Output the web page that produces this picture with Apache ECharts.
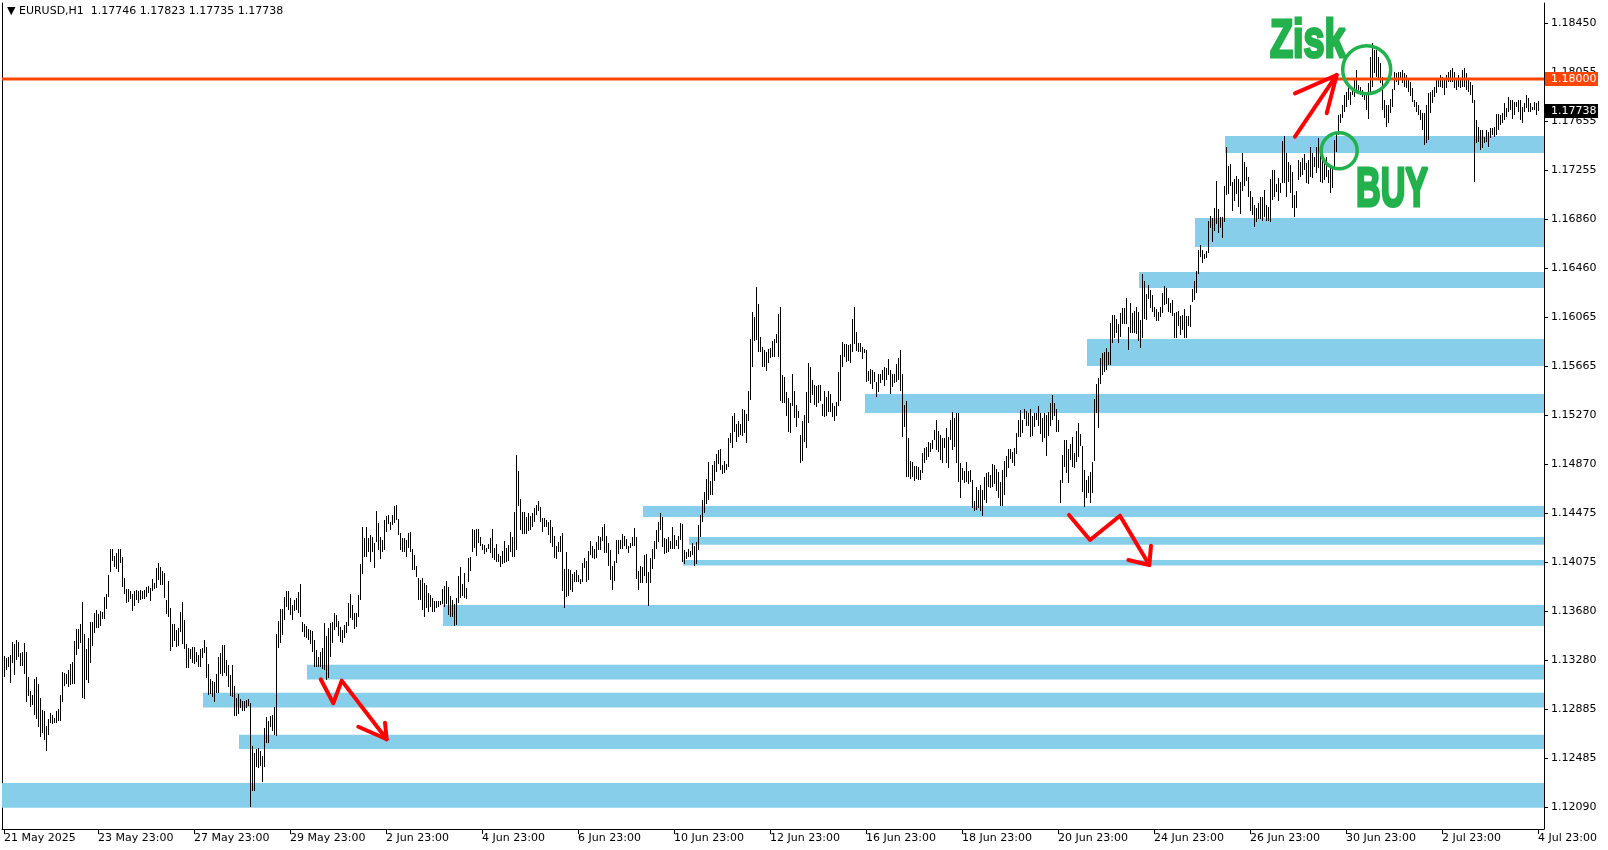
<!DOCTYPE html>
<html><head><meta charset="utf-8">
<script src="https://cdn.jsdelivr.net/npm/echarts@6.0.0/dist/echarts.min.js"></script>
<style>html,body{margin:0;padding:0;background:#fff;}#c{width:1608px;height:850px;}</style>
</head><body><div id="c"></div>
<script>
const chartTitle = '\u25BC EURUSD,H1  1.17746 1.17823 1.17735 1.17738';
const xTickIdx = [0,47,95,143,191,239,287,335,383,431,479,527,575,623,671,719,767];
const xTickLabels = ['21 May 2025','23 May 23:00','27 May 23:00','29 May 23:00','2 Jun 23:00','4 Jun 23:00','6 Jun 23:00','10 Jun 23:00','12 Jun 23:00','16 Jun 23:00','18 Jun 23:00','20 Jun 23:00','24 Jun 23:00','26 Jun 23:00','30 Jun 23:00','2 Jul 23:00','4 Jul 23:00'];
const yTicks = [1.12090,1.12485,1.12885,1.13280,1.13680,1.14075,1.14475,1.14870,1.15270,1.15665,1.16065,1.16460,1.16860,1.17255,1.17655,1.18055,1.18450];

// hourly bar highs (one row = one trading day, 24 bars)
const highs = [
1.13317,1.13298,1.13306,1.13325,1.13430,1.13411,1.13447,1.13433,1.13344,1.13349,1.13422,1.13349,1.13149,1.13033,1.12998,1.13130,1.13149,1.13087,1.12973,1.12879,1.12873,1.12752,1.12806,1.12857,
1.12835,1.12816,1.12873,1.12887,1.13000,1.13187,1.13182,1.13171,1.13200,1.13252,1.13265,1.13441,1.13536,1.13539,1.13576,1.13755,1.13495,1.13376,1.13463,1.13595,1.13595,1.13663,1.13690,1.13660,
1.13682,1.13674,1.13798,1.13820,1.13974,1.14182,1.14182,1.14131,1.14155,1.14182,1.14182,1.14120,1.13947,1.13858,1.13860,1.13847,1.13822,1.13841,1.13852,1.13841,1.13849,1.13841,1.13855,1.13876,
1.13882,1.13868,1.13939,1.13912,1.14031,1.14071,1.14039,1.14009,1.13987,1.13771,1.13925,1.13706,1.13579,1.13574,1.13525,1.13544,1.13676,1.13758,1.13612,1.13414,1.13379,1.13371,1.13390,1.13392,
1.13346,1.13328,1.13374,1.13382,1.13447,1.13392,1.13252,1.13130,1.13111,1.13103,1.13173,1.13311,1.13344,1.13403,1.13403,1.13284,1.13244,1.13163,1.13241,1.13076,1.12979,1.13008,1.12971,1.12954,
1.12952,1.12960,1.12968,1.12935,1.12589,1.12527,1.12562,1.12570,1.12546,1.12503,1.12730,1.12819,1.12787,1.12833,1.12841,1.12900,1.13495,1.13601,1.13701,1.13701,1.13798,1.13844,1.13844,1.13785,
1.13734,1.13771,1.13790,1.13839,1.13901,1.13596,1.13574,1.13563,1.13536,1.13528,1.13520,1.13447,1.13366,1.13312,1.13350,1.13379,1.13582,1.13482,1.13547,1.13582,1.13596,1.13663,1.13647,1.13601,
1.13555,1.13528,1.13569,1.13596,1.13750,1.13820,1.13734,1.13669,1.13663,1.13809,1.14061,1.14366,1.14272,1.14366,1.14272,1.14299,1.14285,1.14231,1.14493,1.14393,1.14285,1.14258,1.14420,1.14456,
1.14461,1.14407,1.14461,1.14537,1.14542,1.14429,1.14312,1.14272,1.14272,1.14258,1.14312,1.14320,1.14182,1.14136,1.14047,1.13947,1.13934,1.13947,1.13907,1.13893,1.13831,1.13812,1.13790,1.13763,
1.13763,1.13763,1.13763,1.13861,1.13885,1.13926,1.13874,1.13804,1.13771,1.13736,1.13785,1.13966,1.14036,1.13899,1.13988,1.13871,1.14109,1.14118,1.14347,1.14339,1.14345,1.14345,1.14285,1.14226,
1.14218,1.14191,1.14226,1.14272,1.14347,1.14190,1.14225,1.14144,1.14128,1.14171,1.14249,1.14195,1.14217,1.14323,1.14282,1.14485,1.14947,1.14817,1.14590,1.14482,1.14487,1.14441,1.14477,1.14452,
1.14477,1.14515,1.14542,1.14574,1.14525,1.14439,1.14439,1.14420,1.14404,1.14423,1.14363,1.14290,1.14209,1.14241,1.14290,1.14314,1.14022,1.14160,1.14022,1.14014,1.13982,1.14001,1.14014,1.13974,
1.13939,1.14074,1.14109,1.14087,1.14171,1.14249,1.14209,1.14185,1.14241,1.14290,1.14282,1.14366,1.14387,1.14290,1.14233,1.14176,1.14047,1.14090,1.14258,1.14258,1.14258,1.14306,1.14290,1.14266,
1.14209,1.14233,1.14282,1.14355,1.14282,1.14006,1.14047,1.14041,1.14136,1.14144,1.13998,1.14112,1.14185,1.14249,1.14339,1.14404,1.14477,1.14444,1.14274,1.14266,1.14282,1.14249,1.14363,1.14298,
1.14258,1.14290,1.14395,1.14387,1.14176,1.14160,1.14185,1.14170,1.14233,1.14210,1.14245,1.14379,1.14460,1.14580,1.14650,1.14750,1.14893,1.14739,1.14866,1.14899,1.14955,1.14988,1.14996,1.14866,
1.14899,1.14874,1.15088,1.15128,1.15264,1.15285,1.15196,1.15223,1.15199,1.15320,1.15312,1.15280,1.15466,1.15888,1.16107,1.16067,1.16313,1.16172,1.15904,1.15826,1.15799,1.15785,1.15807,1.15812,
1.15875,1.15888,1.15929,1.16091,1.16145,1.15596,1.15583,1.15458,1.15407,1.15366,1.15602,1.15466,1.15353,1.15307,1.15109,1.15223,1.15272,1.15458,1.15694,1.15661,1.15556,1.15515,1.15507,1.15515,
1.15515,1.15361,1.15466,1.15420,1.15466,1.15442,1.15366,1.15345,1.15374,1.15623,1.15758,1.15864,1.15848,1.15850,1.15840,1.15848,1.16050,1.16145,1.15945,1.15858,1.15853,1.15821,1.15807,1.15799,
1.15629,1.15645,1.15637,1.15618,1.15542,1.15602,1.15604,1.15637,1.15664,1.15656,1.15726,1.15637,1.15604,1.15604,1.15683,1.15731,1.15799,1.15602,1.15353,1.15385,1.15085,1.14899,1.14888,1.14858,
1.14861,1.14847,1.14826,1.14961,1.15007,1.15015,1.15055,1.15042,1.15069,1.15150,1.15231,1.15142,1.15110,1.15088,1.15083,1.15169,1.15096,1.15231,1.15299,1.15245,1.15285,1.15285,1.14880,1.14839,
1.14818,1.14888,1.14818,1.14826,1.14744,1.14577,1.14690,1.14660,1.14705,1.14663,1.14772,1.14799,1.14810,1.14785,1.14874,1.14866,1.14834,1.14807,1.14731,1.14826,1.14899,1.14942,1.14996,1.14996,
1.14969,1.15001,1.15123,1.15231,1.15312,1.15231,1.15320,1.15304,1.15285,1.15320,1.15266,1.15285,1.15291,1.15345,1.15285,1.15250,1.15285,1.15272,1.15293,1.15372,1.15434,1.15366,1.15320,1.15231,
1.14744,1.14947,1.15069,1.15069,1.14996,1.15034,1.15096,1.14966,1.15142,1.15204,1.15115,1.15023,1.14826,1.14744,1.14780,1.14807,1.14893,1.15402,1.15523,1.15569,1.15732,1.15778,1.15786,1.15813,
1.15780,1.16021,1.16083,1.16083,1.16051,1.16010,1.16102,1.16143,1.16143,1.16224,1.15988,1.16183,1.16097,1.16118,1.16151,1.16110,1.16043,1.16416,1.16359,1.16251,1.16326,1.16286,1.16245,1.16151,
1.16129,1.16110,1.16145,1.16264,1.16321,1.16299,1.16218,1.16183,1.16205,1.16097,1.16110,1.16116,1.16078,1.16083,1.16132,1.16075,1.16078,1.16164,1.16291,1.16359,1.16440,1.16610,1.16651,1.16610,
1.16575,1.16602,1.16848,1.16886,1.16867,1.16948,1.17170,1.16940,1.16875,1.16881,1.17129,1.17443,1.17295,1.17308,1.17160,1.17186,1.17211,1.17186,1.17160,1.17400,1.17322,1.17281,1.17200,1.17092,
1.17038,1.16975,1.16950,1.16990,1.17038,1.17043,1.17097,1.16975,1.16957,1.17184,1.17259,1.17259,1.17143,1.17197,1.17151,1.17495,1.17535,1.17395,1.17322,1.17300,1.17246,1.17057,1.17092,1.17340,
1.17322,1.17361,1.17389,1.17313,1.17340,1.17449,1.17395,1.17368,1.17449,1.17517,1.17395,1.17341,1.17314,1.17368,1.17260,1.17287,1.17274,1.17504,1.17571,1.17706,1.17712,1.17787,1.17869,1.17896,
1.17936,1.17896,1.17923,1.17990,1.18071,1.17950,1.17936,1.17909,1.17896,1.17882,1.17963,1.18180,1.18293,1.18234,1.18234,1.18180,1.18126,1.18017,1.17828,1.17787,1.17787,1.17833,1.17915,1.18058,
1.18044,1.18058,1.18058,1.18071,1.18044,1.18031,1.18004,1.17977,1.17923,1.17828,1.17814,1.17787,1.17747,1.17720,1.17720,1.17787,1.17882,1.17896,1.17909,1.17936,1.18004,1.17990,1.18031,1.18017,
1.18004,1.18031,1.18058,1.18071,1.18090,1.18058,1.17990,1.18031,1.18004,1.18071,1.18085,1.18044,1.17990,1.17977,1.17950,1.17828,1.17666,1.17612,1.17585,1.17585,1.17531,1.17585,1.17571,1.17598,
1.17598,1.17612,1.17712,1.17712,1.17706,1.17720,1.17801,1.17760,1.17849,1.17828,1.17828,1.17814,1.17814,1.17828,1.17828,1.17774,1.17801,1.17869,1.17842,1.17801,1.17774,1.17814,1.17801,1.17823
];
// hourly bar lows
const lows = [
1.13149,1.13203,1.13230,1.13100,1.13257,1.13163,1.13284,1.13306,1.13238,1.13238,1.13168,1.12946,1.12992,1.12906,1.12919,1.12838,1.12806,1.12744,1.12657,1.12689,1.12635,1.12549,1.12673,1.12776,
1.12768,1.12776,1.12776,1.12789,1.12787,1.12944,1.13076,1.13087,1.13068,1.13079,1.13087,1.13087,1.13322,1.13376,1.13420,1.12976,1.12971,1.13122,1.13100,1.13257,1.13398,1.13506,1.13547,1.13547,
1.13560,1.13620,1.13620,1.13698,1.13798,1.13998,1.14090,1.14036,1.14020,1.14001,1.14068,1.13879,1.13820,1.13749,1.13752,1.13779,1.13684,1.13725,1.13771,1.13749,1.13771,1.13779,1.13776,1.13798,
1.13825,1.13766,1.13841,1.13863,1.13868,1.13933,1.13893,1.13893,1.13785,1.13655,1.13630,1.13360,1.13387,1.13441,1.13392,1.13401,1.13509,1.13414,1.13376,1.13222,1.13222,1.13292,1.13260,1.13249,
1.13265,1.13228,1.13230,1.13303,1.13338,1.13136,1.13000,1.13006,1.12987,1.12946,1.13019,1.13019,1.13171,1.13155,1.13176,1.13155,1.13068,1.12992,1.12987,1.12830,1.12830,1.12844,1.12892,1.12871,
1.12873,1.12892,1.12914,1.12095,1.12222,1.12222,1.12414,1.12411,1.12427,1.12297,1.12419,1.12614,1.12614,1.12744,1.12708,1.12673,1.12668,1.13385,1.13425,1.13485,1.13609,1.13717,1.13690,1.13652,
1.13609,1.13682,1.13690,1.13663,1.13636,1.13515,1.13474,1.13461,1.13447,1.13412,1.13352,1.13231,1.13231,1.13231,1.13225,1.13212,1.13204,1.13122,1.13136,1.13312,1.13420,1.13528,1.13555,1.13482,
1.13433,1.13420,1.13461,1.13501,1.13563,1.13623,1.13609,1.13539,1.13555,1.13636,1.13771,1.13985,1.14123,1.14118,1.14163,1.14082,1.14158,1.14034,1.14239,1.14177,1.14104,1.14158,1.14177,1.14320,
1.14385,1.14339,1.14380,1.14393,1.14420,1.14299,1.14177,1.14163,1.14163,1.14123,1.14191,1.14158,1.14015,1.14015,1.13955,1.13771,1.13771,1.13690,1.13636,1.13704,1.13677,1.13717,1.13677,1.13677,
1.13704,1.13717,1.13731,1.13736,1.13717,1.13736,1.13650,1.13636,1.13636,1.13563,1.13569,1.13744,1.13785,1.13804,1.13785,1.13782,1.13920,1.14009,1.14163,1.14191,1.14131,1.14236,1.14212,1.14177,
1.14145,1.14163,1.14182,1.14150,1.14109,1.14095,1.14082,1.14076,1.14041,1.14060,1.14068,1.14082,1.14090,1.14163,1.14122,1.14122,1.14176,1.14533,1.14339,1.14306,1.14306,1.14306,1.14331,1.14339,
1.14366,1.14406,1.14460,1.14493,1.14406,1.14325,1.14360,1.14360,1.14301,1.14236,1.14204,1.14114,1.14106,1.14163,1.14163,1.13847,1.13709,1.13798,1.13806,1.13852,1.13836,1.13920,1.13920,1.13920,
1.13898,1.13920,1.14033,1.13920,1.13933,1.14136,1.14114,1.14103,1.14114,1.14176,1.14176,1.14252,1.14155,1.14155,1.14049,1.13933,1.13852,1.13928,1.14074,1.14144,1.14185,1.14185,1.14209,1.14185,
1.14155,1.14195,1.14209,1.14209,1.13941,1.13852,1.13911,1.13911,1.13968,1.13911,1.13725,1.13911,1.14022,1.14103,1.14185,1.14241,1.14339,1.14198,1.14144,1.14149,1.14158,1.14185,1.14185,1.14185,
1.14212,1.14185,1.14258,1.14082,1.14063,1.14100,1.14118,1.14120,1.14136,1.14049,1.14060,1.14176,1.14280,1.14400,1.14480,1.14550,1.14580,1.14620,1.14620,1.14739,1.14812,1.14874,1.14826,1.14790,
1.14798,1.14826,1.14853,1.15042,1.15007,1.15136,1.15055,1.15096,1.15109,1.15104,1.15123,1.15047,1.15226,1.15393,1.15664,1.15875,1.15880,1.15785,1.15785,1.15664,1.15664,1.15631,1.15696,1.15737,
1.15745,1.15745,1.15858,1.15745,1.15388,1.15366,1.15366,1.15266,1.15136,1.15123,1.15347,1.15250,1.15177,1.15245,1.14885,1.14901,1.15055,1.15007,1.15204,1.15372,1.15434,1.15353,1.15334,1.15372,
1.15388,1.15266,1.15258,1.15266,1.15299,1.15299,1.15258,1.15226,1.15266,1.15345,1.15388,1.15664,1.15745,1.15704,1.15712,1.15691,1.15785,1.15848,1.15794,1.15780,1.15785,1.15723,1.15772,1.15542,
1.15550,1.15523,1.15483,1.15542,1.15420,1.15456,1.15529,1.15556,1.15507,1.15556,1.15596,1.15442,1.15502,1.15529,1.15542,1.15556,1.15469,1.15096,1.15177,1.14771,1.14771,1.14750,1.14771,1.14736,
1.14755,1.14744,1.14744,1.14799,1.14885,1.14907,1.14934,1.14974,1.14996,1.15069,1.14988,1.14974,1.14907,1.14880,1.15001,1.14880,1.14839,1.15069,1.14988,1.15015,1.14880,1.14731,1.14601,1.14744,
1.14717,1.14731,1.14712,1.14731,1.14520,1.14493,1.14501,1.14520,1.14490,1.14455,1.14582,1.14561,1.14690,1.14680,1.14690,1.14712,1.14658,1.14601,1.14536,1.14536,1.14623,1.14766,1.14839,1.14915,
1.14880,1.14861,1.14953,1.15096,1.15096,1.15123,1.15239,1.15185,1.15185,1.15096,1.15104,1.15177,1.15231,1.15185,1.15115,1.15050,1.15083,1.14942,1.15104,1.15185,1.15231,1.15266,1.15137,1.15131,
1.14561,1.14717,1.14853,1.14799,1.14717,1.14907,1.14853,1.14845,1.14888,1.14934,1.15023,1.14644,1.14528,1.14601,1.14636,1.14561,1.14636,1.14899,1.15285,1.15169,1.15520,1.15600,1.15620,1.15640,
1.15680,1.15680,1.15859,1.15894,1.15934,1.15859,1.15907,1.16007,1.16007,1.16007,1.15799,1.15940,1.15934,1.15940,1.15926,1.15875,1.15813,1.15894,1.16051,1.16043,1.16210,1.16143,1.16110,1.16070,
1.16034,1.16034,1.16070,1.16102,1.16164,1.16172,1.16105,1.16102,1.16075,1.15899,1.15894,1.15994,1.15921,1.15961,1.15894,1.15894,1.15996,1.15983,1.16191,1.16205,1.16264,1.16413,1.16556,1.16508,
1.16535,1.16543,1.16589,1.16792,1.16673,1.16765,1.16819,1.16751,1.16786,1.16710,1.16840,1.17057,1.17065,1.17132,1.16930,1.17011,1.17065,1.16957,1.16902,1.17092,1.17132,1.17173,1.17038,1.16930,
1.16894,1.16800,1.16835,1.16860,1.16859,1.16846,1.16875,1.16846,1.16846,1.16840,1.17016,1.17038,1.17078,1.17008,1.17070,1.17151,1.17151,1.17043,1.17165,1.17070,1.16948,1.16875,1.16948,1.17178,
1.17205,1.17219,1.17260,1.17151,1.17143,1.17206,1.17193,1.17287,1.17233,1.17274,1.17165,1.17152,1.17179,1.17206,1.17152,1.17071,1.17111,1.17260,1.17409,1.17544,1.17639,1.17679,1.17733,1.17768,
1.17828,1.17787,1.17869,1.17855,1.17882,1.17896,1.17869,1.17855,1.17828,1.17747,1.17671,1.17896,1.17936,1.18044,1.18017,1.18004,1.17963,1.17747,1.17680,1.17606,1.17639,1.17725,1.17774,1.17909,
1.17977,1.17950,1.17990,1.17963,1.17936,1.17923,1.17896,1.17861,1.17814,1.17774,1.17733,1.17706,1.17666,1.17585,1.17463,1.17476,1.17504,1.17720,1.17801,1.17855,1.17882,1.17936,1.17936,1.17923,
1.17869,1.17923,1.17977,1.17977,1.17977,1.17923,1.17909,1.17936,1.17923,1.17936,1.17936,1.17909,1.17896,1.17869,1.17801,1.17166,1.17476,1.17490,1.17422,1.17436,1.17476,1.17490,1.17450,1.17517,
1.17544,1.17531,1.17544,1.17585,1.17625,1.17639,1.17666,1.17693,1.17733,1.17747,1.17671,1.17706,1.17774,1.17733,1.17666,1.17639,1.17733,1.17760,1.17733,1.17733,1.17747,1.17747,1.17710,1.17735
];

// support / resistance zones: first bar index, upper price, lower price
const zoneStart = [-1, 99.5, 117.5, 151.5, 219.5, 319.5, 339.5, 342.5, 430.5, 541.5, 567.5, 595.5, 610.5];
const zoneHigh  = [1.12287, 1.13018, 1.12677, 1.13245, 1.13731, 1.14534, 1.14096, 1.14283, 1.15443, 1.15889, 1.16432, 1.16870, 1.17536];
const zoneLow   = [1.12085, 1.12899, 1.12563, 1.13126, 1.13561, 1.14445, 1.14050, 1.14220, 1.15289, 1.15670, 1.16303, 1.16635, 1.17398];

const targetLevel = 1.18000;
const lastPrice = 1.17738;

// hand-drawn annotations (bar index, price)
const zigzag1 = [[158.35,1.13128],[164.65,1.12933],[168.85,1.13117],[191.35,1.12641]];
const zigzag1Head = [[177.15,1.12743],[191.35,1.12641],[190.5,1.12776]];
const zigzag2 = [[532.5,1.14461],[543,1.14258],[558,1.14455],[572.65,1.14055]];
const zigzag2Head = [[562.15,1.14096],[572.65,1.14055],[573.5,1.14212]];
const arrowUp = [[645.5,1.17530],[666.35,1.18031]];
const arrowUpHead = [[645.5,1.17882],[666.35,1.18031],[661.35,1.17720]];
const circleTarget = [681.35,1.18074];
const circleBuy = [667.6,1.17416];
const textZisk = [633,1.18300];
const textBuy = [676,1.17094];

const FONT = 'DejaVu Sans';
const chart = echarts.init(document.getElementById('c'), null, {renderer:'canvas', width:1608, height:850});

const barData = highs.map((h, i) => [i, lows[i], h]);
const zoneData = zoneStart.map((s, k) => [s, zoneHigh[k], zoneLow[k]]);

const option = {
  animation: false,
  backgroundColor: '#ffffff',
  title: {
    text: chartTitle, left: 4, top: 3, padding: [3, 3], backgroundColor: '#ffffff',
    textStyle: {fontSize: 11, fontWeight: 'normal', fontFamily: FONT, color: '#000'}
  },
  grid: {left: 2, right: 64, top: 3, bottom: 21, show: false},
  xAxis: {
    type: 'value', min: -1, max: 770, position: 'bottom',
    splitLine: {show: false},
    axisLine: {show: true, onZero: false, lineStyle: {color: '#000', width: 1}},
    axisTick: {show: true, customValues: xTickIdx, length: 5, inside: false, lineStyle: {color: '#000'}},
    axisLabel: {
      show: true, customValues: xTickIdx, align: 'left', margin: 4,
      fontSize: 11, fontFamily: FONT, color: '#000',
      formatter: v => { const k = xTickIdx.indexOf(Math.round(v)); return k >= 0 ? xTickLabels[k] : ''; }
    }
  },
  yAxis: [{
    type: 'value', min: 1.11913, max: 1.18615, position: 'right',
    splitLine: {show: false},
    axisLine: {show: true, onZero: false, lineStyle: {color: '#000', width: 1}},
    axisTick: {show: true, customValues: yTicks, length: 4, lineStyle: {color: '#000'}},
    axisLabel: {show: true, customValues: yTicks, margin: 7, fontSize: 11, fontFamily: FONT, color: '#000',
      formatter: v => v.toFixed(5)}
  }, {
    type: 'value', min: 1.11913, max: 1.18615, position: 'left',
    splitLine: {show: false},
    axisLine: {show: true, onZero: false, lineStyle: {color: '#000', width: 1}},
    axisTick: {show: false}, axisLabel: {show: false}
  }],
  series: [
    {
      type: 'custom', name: 'zones', z: 1, data: zoneData,
      encode: {x: 0, y: [1, 2]},
      renderItem(params, api) {
        const p1 = api.coord([api.value(0), api.value(1)]);
        const p2 = api.coord([api.value(0), api.value(2)]);
        const right = params.coordSys.x + params.coordSys.width;
        return {type: 'rect', shape: {x: Math.round(p1[0]), y: p1[1], width: right - Math.round(p1[0]), height: p2[1] - p1[1]},
          style: {fill: '#87CEEB'}};
      }
    },
    {
      type: 'custom', name: 'EURUSD,H1', z: 2, data: barData,
      encode: {x: 0, y: [1, 2]},
      renderItem(params, api) {
        const pLo = api.coord([api.value(0), api.value(1)]);
        const pHi = api.coord([api.value(0), api.value(2)]);
        const x = Math.round(pLo[0]);
        const y1 = Math.round(pHi[1]), y2 = Math.round(pLo[1]);
        return {type: 'rect', shape: {x: x, y: y1, width: 1, height: Math.max(1, y2 - y1)}, style: {fill: '#000'}};
      }
    },
    {
      type: 'custom', name: 'levels', z: 5, data: [[0, targetLevel, 0], [0, lastPrice, 1]],
      encode: {y: 1},
      renderItem(params, api) {
        const lvl = api.value(1), kind = api.value(2);
        const y = api.coord([0, lvl])[1];
        const cs = params.coordSys;
        const right = cs.x + cs.width;
        const children = [];
        const bg = kind === 0 ? '#FF4500' : '#000000';
        if (kind === 0) {
          children.push({type: 'rect', shape: {x: cs.x, y: Math.round(y) - 1.5, width: cs.width, height: 3}, style: {fill: '#FF4500'}});
        }
        children.push({type: 'rect', shape: {x: right + 1, y: Math.round(y) - 7, width: 53, height: 14}, style: {fill: bg}});
        children.push({type: 'text', x: right + 7, y: Math.round(y), style: {text: lvl.toFixed(5), fill: '#fff',
          font: '11px "' + FONT + '"', verticalAlign: 'middle', align: 'left'}});
        return {type: 'group', children};
      }
    },
    {
      type: 'custom', name: 'annotations', z: 6, data: [[0, 0]],
      renderItem(params, api) {
        const pts = arr => arr.map(p => api.coord(p));
        const red = {stroke: '#FF0000', lineWidth: 4, fill: null, lineJoin: 'round', lineCap: 'round'};
        const green = '#22B14C';
        const c1 = api.coord(circleTarget), c2 = api.coord(circleBuy);
        const tz = api.coord(textZisk), tb = api.coord(textBuy);
        return {type: 'group', children: [
          {type: 'polyline', shape: {points: pts(zigzag1)}, style: red},
          {type: 'polyline', shape: {points: pts(zigzag1Head)}, style: red},
          {type: 'polyline', shape: {points: pts(zigzag2)}, style: red},
          {type: 'polyline', shape: {points: pts(zigzag2Head)}, style: red},
          {type: 'polyline', shape: {points: pts(arrowUp)}, style: red},
          {type: 'polyline', shape: {points: pts(arrowUpHead)}, style: red},
          {type: 'circle', shape: {cx: c1[0], cy: c1[1], r: 24}, style: {fill: null, stroke: green, lineWidth: 3.5}},
          {type: 'circle', shape: {cx: c2[0], cy: c2[1], r: 18}, style: {fill: null, stroke: green, lineWidth: 3.5}},
          {type: 'text', x: tz[0], y: tz[1], scaleX: 0.70, style: {text: 'Zisk', fill: green, stroke: green, lineWidth: 3,
            font: 'bold 54px "Liberation Sans"', verticalAlign: 'middle', align: 'left'}},
          {type: 'text', x: tb[0], y: tb[1], scaleX: 0.61, style: {text: 'BUY', fill: green, stroke: green, lineWidth: 3,
            font: 'bold 56px "Liberation Sans"', verticalAlign: 'middle', align: 'left'}}
        ]};
      }
    }
  ]
};
chart.setOption(option);
</script>
</body></html>
